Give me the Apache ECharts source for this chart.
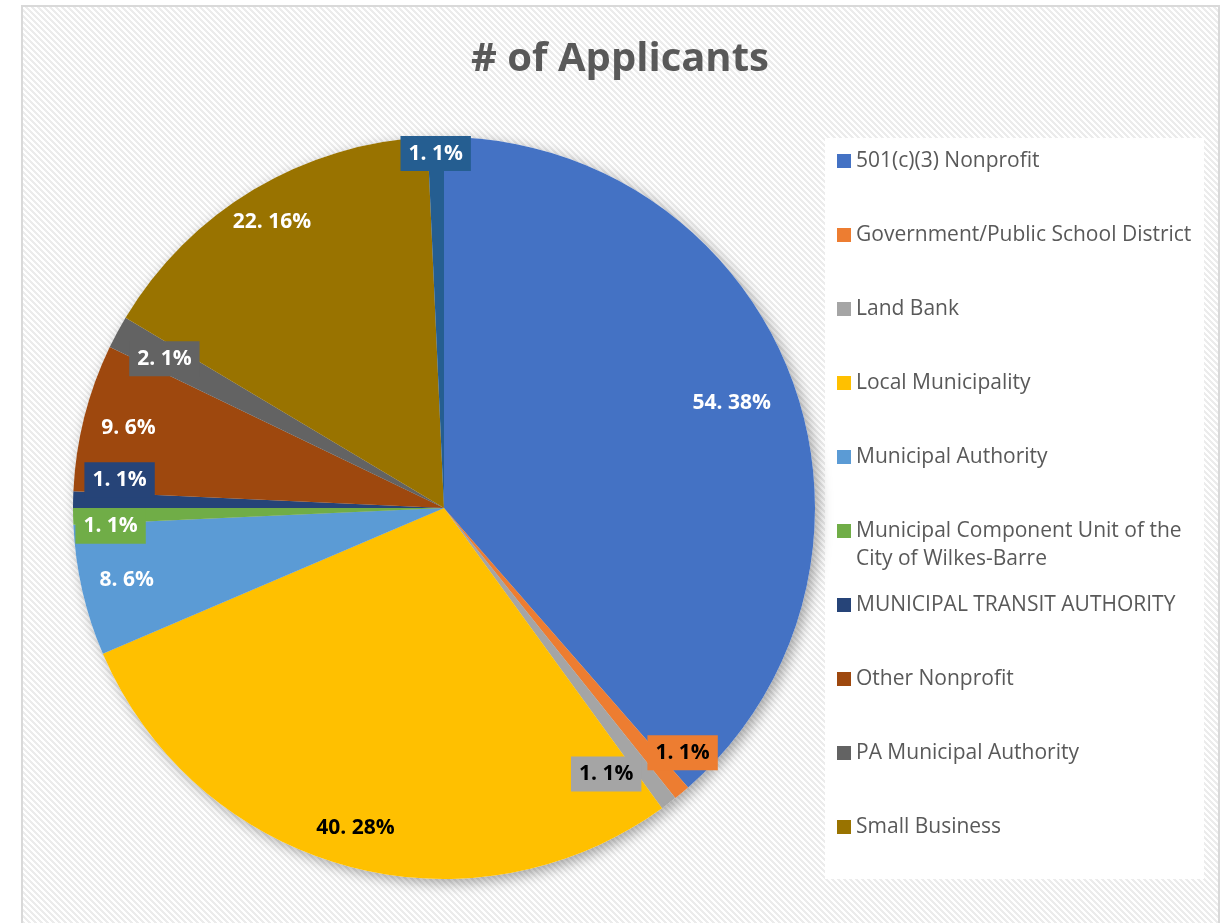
<!DOCTYPE html>
<html>
<head>
<meta charset="utf-8">
<script src="https://cdn.jsdelivr.net/npm/echarts@6/dist/echarts.min.js"></script>
<style>
  html, body { margin: 0; padding: 0; background: #fff; }
  #chart { width: 1225px; height: 923px; }
</style>
</head>
<body>
<div id="chart"></div>
<script>
const categories = [
  '501(c)(3) Nonprofit',
  'Government/Public School District',
  'Land Bank',
  'Local Municipality',
  'Municipal Authority',
  'Municipal Component Unit of the City of Wilkes-Barre',
  'MUNICIPAL TRANSIT AUTHORITY',
  'Other Nonprofit',
  'PA Municipal Authority',
  'Small Business',
  '(not in legend)'
];
const counts = [54, 1, 1, 40, 8, 1, 1, 9, 2, 22, 1];
// percentages as printed on the chart
const percents = [38, 1, 1, 28, 6, 1, 1, 6, 1, 16, 1];

const palette = ['#4472C4', '#ED7D31', '#A5A5A5', '#FFC000', '#5B9BD5', '#70AD47',
  '#264478', '#9E480E', '#636363', '#997300', '#255E91'];
const darkText = ['#ED7D31', '#A5A5A5', '#FFC000'];

// small nudges so labels sit where Excel put them (by data index)
const labelNudge = {
  0: [-17, 9], 1: [30, -5], 2: [-35, 7], 3: [-2, 6], 5: [-8, 11],
  6: [1, -21], 8: [7, 5], 9: [-5, -7], 10: [-1, -29]
};

// hatched background tile
function hatch() {
  const c = document.createElement('canvas');
  c.width = 6; c.height = 6;
  const ctx = c.getContext('2d');
  ctx.fillStyle = '#ffffff';
  ctx.fillRect(0, 0, 6, 6);
  ctx.fillStyle = '#ececec';
  for (let y = 0; y < 6; y++) {
    for (let x = 0; x < 6; x++) {
      if (((x - y) % 6 + 6) % 6 < 3) ctx.fillRect(x, y, 1, 1);
    }
  }
  return c;
}

const chart = echarts.init(document.getElementById('chart'));
const font = '"Open Sans", Lato, sans-serif';

const pieData = categories.map((name, i) => ({
  name: name,
  value: counts[i],
  itemStyle: { color: palette[i] }
}));

// thin slices get a filled box behind their label, like Excel does
const labelData = categories.map((name, i) => ({
  name: name,
  value: counts[i],
  label: {
    formatter: counts[i] + '. ' + percents[i] + '%',
    color: darkText.indexOf(palette[i]) >= 0 ? '#000' : '#fff',
    backgroundColor: counts[i] <= 2 ? palette[i] : 'transparent'
  }
}));

const options = {
  backgroundColor: '#fff',
  color: palette,
  textStyle: { fontFamily: font },
  graphic: [
    {
      type: 'rect', z: -10, silent: true,
      shape: { x: 22, y: 6, width: 1197, height: 930 },
      style: { fill: { image: hatch(), repeat: 'repeat' }, stroke: '#d9d9d9', lineWidth: 2 }
    },
    {
      type: 'rect', z: -9, silent: true,
      shape: { x: 825, y: 138, width: 379, height: 741 },
      style: { fill: '#ffffff' }
    }
  ],
  title: {
    text: '# of Applicants',
    left: 620,
    textAlign: 'center',
    top: 40,
    padding: 0,
    textStyle: { fontFamily: font, fontSize: 40, fontWeight: 'bold', color: '#595959' }
  },
  legend: {
    orient: 'vertical',
    left: 837,
    top: 119,
    padding: 0,
    itemWidth: 14,
    itemHeight: 14,
    itemGap: -10,
    icon: 'rect',
    data: categories.slice(0, 10),
    // every item is three lines tall so the two-line entry keeps the same spacing
    formatter: (name) => name.indexOf('Unit of the ') >= 0
      ? '\n' + name.replace('Unit of the ', 'Unit of the\n')
      : '\n' + name + '\n',
    textStyle: { fontFamily: font, fontSize: 21, color: '#595959', lineHeight: 28 }
  },
  series: [
    {
      // soft shadow under the pie
      type: 'pie', silent: true, z: 1,
      center: [444, 508], radius: 371, startAngle: 90,
      data: counts.map((v) => ({ value: v })),
      itemStyle: { color: '#fff', shadowBlur: 14, shadowColor: 'rgba(0,0,0,0.35)', shadowOffsetX: 4, shadowOffsetY: 4 },
      label: { show: false }, labelLine: { show: false }
    },
    {
      name: '# of Applicants',
      type: 'pie', z: 2,
      center: [444, 508], radius: 371, startAngle: 90,
      data: pieData,
      itemStyle: { borderWidth: 0 },
      label: { show: false }, labelLine: { show: false },
      emphasis: { disabled: true }
    },
    {
      // label ring
      type: 'pie', silent: true, z: 3,
      center: [444, 508], radius: [274, 371], startAngle: 90,
      data: labelData,
      itemStyle: { color: 'rgba(0,0,0,0)' },
      label: {
        show: true, position: 'inside',
        fontFamily: font, fontSize: 21, fontWeight: 'bold',
        padding: [7, 8]
      },
      labelLine: { show: false },
      labelLayout: (params) => {
        const n = labelNudge[params.dataIndex];
        return n ? { dx: n[0], dy: n[1] } : {};
      }
    }
  ]
};
chart.setOption(options);
</script>
</body>
</html>
